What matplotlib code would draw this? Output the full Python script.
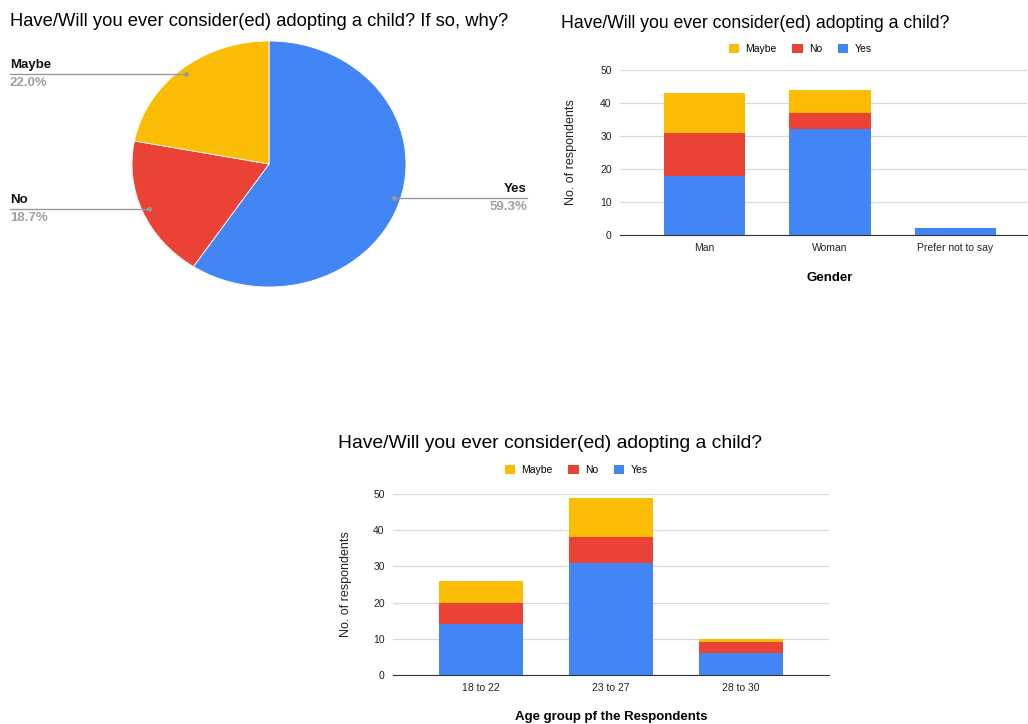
import numpy as np
import matplotlib
matplotlib.use('Agg')
import matplotlib.pyplot as plt

plt.rcParams['font.family'] = ['Liberation Sans', 'DejaVu Sans']

# pie data
pie_labels = ['Yes', 'No', 'Maybe']
pie_pct = [59.3, 18.7, 22.0]

# by gender
genders = ['Man', 'Woman', 'Prefer not to say']
gender_yes = [18, 32, 2]
gender_no = [13, 5, 0]
gender_maybe = [12, 7, 0]

# by age group
ages = ['18 to 22', '23 to 27', '28 to 30']
age_yes = [14, 31, 6]
age_no = [6, 7, 3]
age_maybe = [6, 11, 1]

BLUE = '#4285F4'
RED = '#EA4335'
YELLOW = '#FBBC04'
W, H = 1028, 724

fig = plt.figure(figsize=(W / 100, H / 100), dpi=100)


def px_axes(left, top, right, bottom):
    return fig.add_axes([left / W, 1 - bottom / H, (right - left) / W, (bottom - top) / H])


def fig_xy(x, y):
    return x / W, 1 - y / H


# ---------- pie ----------
ax = px_axes(132, 41, 406, 287)
colors = [BLUE, RED, YELLOW]
wedges, _ = ax.pie(pie_pct, colors=colors, startangle=90, counterclock=False,
                   wedgeprops=dict(linewidth=0.6, edgecolor='white'))
ax.set_aspect('auto')
ax.set_xlim(-1, 1)
ax.set_ylim(-1, 1)
fig.text(*fig_xy(10, 21), 'Have/Will you ever consider(ed) adopting a child? If so, why?',
         fontsize=13.25, va='center', ha='left')

label_x = {'Yes': 527, 'No': 10, 'Maybe': 10}
for w, lab, pct in zip(wedges, pie_labels, pie_pct):
    ang = np.deg2rad((w.theta1 + w.theta2) / 2)
    dot = ax.transData.transform((0.95 * np.cos(ang), 0.95 * np.sin(ang)))
    fx, fy = fig.transFigure.inverted().transform(dot)
    lx = label_x[lab] / W
    fig.add_artist(plt.Line2D([fx, lx], [fy, fy], transform=fig.transFigure,
                              color='#999999', lw=1))
    fig.add_artist(plt.Line2D([fx], [fy], transform=fig.transFigure, marker='o',
                              ms=2.5, color='#999999'))
    ha = 'right' if lab == 'Yes' else 'left'
    fig.text(lx, fy + 3 / H, lab, ha=ha, va='bottom', fontsize=9.5, fontweight='bold',
             color='#111111')
    fig.text(lx, fy - 3 / H, f'{pct:.1f}%', ha=ha, va='top', fontsize=9.5,
             fontweight='bold', color='#a0a0a0')


def stacked(ax, cats, yes, no, maybe, xlim):
    x = np.arange(len(cats))
    yes = np.array(yes)
    no = np.array(no)
    maybe = np.array(maybe)
    ax.bar(x, yes, 0.65, color=BLUE, label='Yes', zorder=3)
    ax.bar(x, no, 0.65, bottom=yes, color=RED, label='No', zorder=3)
    ax.bar(x, maybe, 0.65, bottom=yes + no, color=YELLOW, label='Maybe', zorder=3)
    ax.set_xlim(*xlim)
    ax.set_ylim(0, 50)
    ax.set_yticks([0, 10, 20, 30, 40, 50])
    ax.set_xticks(x)
    ax.set_xticklabels(cats)
    ax.grid(axis='y', color='#d9d9d9', lw=0.9, zorder=0)
    for s in ['top', 'right', 'left']:
        ax.spines[s].set_visible(False)
    ax.spines['bottom'].set_color('#333333')
    ax.spines['bottom'].set_zorder(4)
    ax.tick_params(length=0, labelsize=7.5, colors='#222222', pad=6)
    ax.set_ylabel('No. of respondents', fontsize=9, color='#222222')
    h, l = ax.get_legend_handles_labels()
    return h[::-1], l[::-1]


def legend_at(ax, handles, labels, cx, cy):
    fig.legend(handles, labels, loc='center', bbox_to_anchor=fig_xy(cx, cy), ncol=3,
               frameon=False, fontsize=7.5, handlelength=1.0, handleheight=1.0,
               handletextpad=0.6, columnspacing=1.5, borderaxespad=0)


# ---------- gender ----------
ax2 = px_axes(620, 70, 1027, 235)
h, l = stacked(ax2, genders, gender_yes, gender_no, gender_maybe, (-0.675, 2.57))
ax2.yaxis.set_label_coords(-0.105, 0.5)
fig.text(*fig_xy(561, 24), 'Have/Will you ever consider(ed) adopting a child?',
         fontsize=12.7, va='center', ha='left')
legend_at(ax2, h, l, 800, 49)
fig.text(*fig_xy(830, 278), 'Gender', fontsize=9.5, fontweight='bold', ha='center',
         va='center')

# ---------- age ----------
ax3 = px_axes(393, 494, 829, 675)
h, l = stacked(ax3, ages, age_yes, age_no, age_maybe, (-0.677, 2.677))
ax3.yaxis.set_label_coords(-0.093, 0.5)
fig.text(*fig_xy(338, 443), 'Have/Will you ever consider(ed) adopting a child?',
         fontsize=13.9, va='center', ha='left')
legend_at(ax3, h, l, 576, 470)
fig.text(*fig_xy(611, 717), 'Age group pf the Respondents', fontsize=9.5,
         fontweight='bold', ha='center', va='center')

fig.savefig('out.png', dpi=100)
